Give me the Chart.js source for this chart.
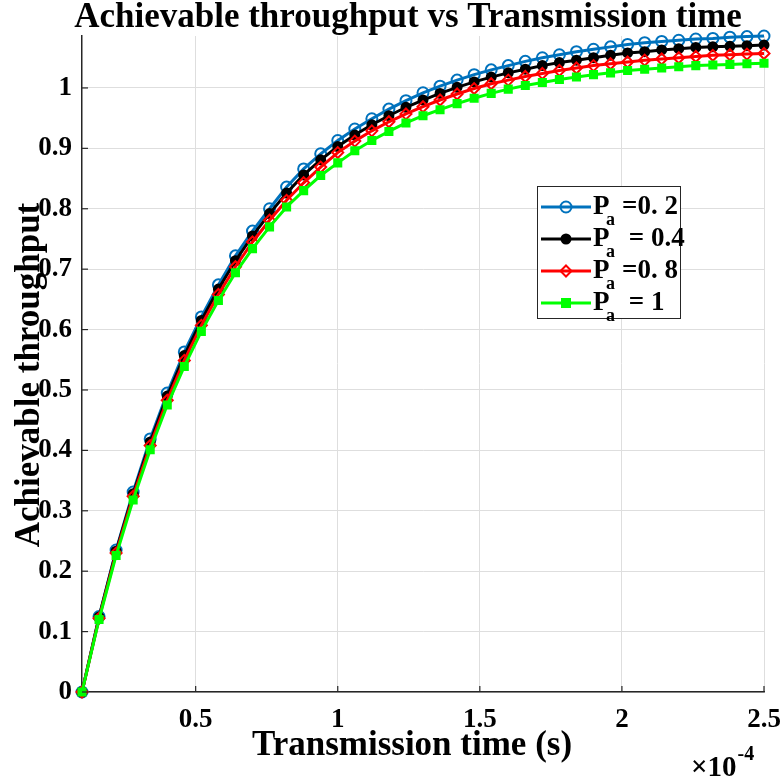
<!DOCTYPE html>
<html>
<head>
<meta charset="utf-8">
<title>Achievable throughput vs Transmission time</title>
<script src="https://cdn.jsdelivr.net/npm/chart.js"></script>
<style>
  html, body { margin: 0; padding: 0; background: #fff; }
  #wrap { width: 782px; height: 779px; }
</style>
</head>
<body>
<div id="wrap"><canvas id="throughputChart" width="782" height="779"></canvas></div>
<script>
'use strict';
// data (time in units of 1e-4 s)
var timeValues = [0.10, 0.16, 0.22, 0.28, 0.34, 0.40, 0.46, 0.52, 0.58, 0.64,
  0.70, 0.76, 0.82, 0.88, 0.94, 1.00, 1.06, 1.12, 1.18, 1.24,
  1.30, 1.36, 1.42, 1.48, 1.54, 1.60, 1.66, 1.72, 1.78, 1.84,
  1.90, 1.96, 2.02, 2.08, 2.14, 2.20, 2.26, 2.32, 2.38, 2.44, 2.50];
var throughputPa02 = [0, 0.125, 0.235, 0.331, 0.419, 0.495, 0.563, 0.621, 0.674, 0.722,
  0.763, 0.800, 0.836, 0.866, 0.891, 0.913, 0.932, 0.949, 0.965, 0.979,
  0.992, 1.003, 1.013, 1.022, 1.030, 1.037, 1.044, 1.050, 1.055, 1.060,
  1.064, 1.068, 1.072, 1.075, 1.077, 1.079, 1.081, 1.082, 1.084, 1.085, 1.086];
var throughputPa04 = [0, 0.124, 0.233, 0.328, 0.414, 0.490, 0.557, 0.615, 0.667, 0.714,
  0.755, 0.792, 0.826, 0.856, 0.881, 0.903, 0.922, 0.939, 0.954, 0.968,
  0.980, 0.991, 1.001, 1.010, 1.018, 1.025, 1.031, 1.037, 1.042, 1.046,
  1.050, 1.054, 1.058, 1.060, 1.063, 1.065, 1.067, 1.068, 1.069, 1.070, 1.071];
var throughputPa08 = [0, 0.122, 0.230, 0.324, 0.408, 0.483, 0.549, 0.607, 0.658, 0.704,
  0.745, 0.781, 0.814, 0.843, 0.869, 0.893, 0.912, 0.929, 0.944, 0.957,
  0.969, 0.980, 0.990, 0.999, 1.007, 1.013, 1.019, 1.024, 1.029, 1.033,
  1.037, 1.040, 1.043, 1.046, 1.048, 1.050, 1.052, 1.054, 1.055, 1.056, 1.057];
var throughputPa1 = [0, 0.120, 0.226, 0.318, 0.401, 0.475, 0.539, 0.597, 0.648, 0.694,
  0.734, 0.770, 0.803, 0.830, 0.855, 0.876, 0.896, 0.913, 0.928, 0.942,
  0.954, 0.964, 0.974, 0.983, 0.991, 0.998, 1.004, 1.009, 1.014, 1.018,
  1.022, 1.025, 1.029, 1.031, 1.033, 1.035, 1.037, 1.038, 1.039, 1.040, 1.041];
var xTickValues = [0.5, 1, 1.5, 2, 2.5];
var yTickValues = [0, 0.1, 0.2, 0.3, 0.4, 0.5, 0.6, 0.7, 0.8, 0.9, 1];
var legendNames = ['=0. 2', ' = 0.4', '=0. 8', ' = 1'];
var chartTitle = 'Achievable throughput vs Transmission time';
var xLabel = 'Transmission time (s)';
var yLabel = 'Achievable throughput';

var FONT = '"Liberation Serif", "Times New Roman", serif';
var seriesStyles = [
  { color: '#0072BD', point: 'circle', radius: 5.5, fill: 'rgba(0,0,0,0)' },
  { color: '#000000', point: 'circle', radius: 4.5, fill: '#000000' },
  { color: '#FF0000', point: 'rectRot', radius: 5.5, fill: 'rgba(0,0,0,0)' },
  { color: '#00FF00', point: 'rect', radius: 5, fill: '#00FF00' }
];
var seriesData = [throughputPa02, throughputPa04, throughputPa08, throughputPa1];

function makePoints(values) {
  var pts = [];
  for (var i = 0; i < timeValues.length; i++) {
    pts.push({ x: timeValues[i], y: values[i] });
  }
  return pts;
}

function makeDatasets() {
  var sets = [];
  for (var i = 0; i < seriesData.length; i++) {
    var st = seriesStyles[i];
    sets.push({
      label: 'Pa' + legendNames[i],
      data: makePoints(seriesData[i]),
      borderColor: st.color,
      backgroundColor: st.fill,
      borderWidth: 3,
      pointStyle: st.point,
      pointRadius: st.radius,
      pointBorderWidth: 2,
      pointBorderColor: st.color,
      pointBackgroundColor: st.fill,
      tension: 0,
      clip: false,
      order: seriesData.length - 1 - i // later series on top like matlab
    });
  }
  return sets;
}

// draws one legend marker by hand
function drawMarker(ctx, st, x, y) {
  var r = st.radius;
  ctx.save();
  ctx.lineWidth = 2;
  ctx.strokeStyle = st.color;
  ctx.fillStyle = st.fill;
  ctx.beginPath();
  if (st.point === 'circle') {
    ctx.arc(x, y, r, 0, Math.PI * 2);
  } else if (st.point === 'rectRot') {
    ctx.moveTo(x, y - r); ctx.lineTo(x + r, y); ctx.lineTo(x, y + r); ctx.lineTo(x - r, y);
    ctx.closePath();
  } else {
    var h = r * 0.8;
    ctx.rect(x - h, y - h, h * 2, h * 2);
  }
  ctx.fill();
  ctx.stroke();
  ctx.restore();
}

// title, axis labels, legend box, inward ticks and the x10^-4 multiplier
var extrasPlugin = {
  id: 'extras',
  afterDraw: function(chart) {
    var ctx = chart.ctx;
    var xs = chart.scales.x;
    var ys = chart.scales.y;
    var area = chart.chartArea;
    ctx.save();
    ctx.strokeStyle = '#262626';
    ctx.lineWidth = 1.2;
    xTickValues.forEach(function(v) {
      var px = xs.getPixelForValue(v);
      ctx.beginPath(); ctx.moveTo(px, area.bottom); ctx.lineTo(px, area.bottom - 6); ctx.stroke();
    });
    yTickValues.forEach(function(v) {
      var py = ys.getPixelForValue(v);
      ctx.beginPath(); ctx.moveTo(area.left, py); ctx.lineTo(area.left + 6, py); ctx.stroke();
    });

    // title and axis labels
    ctx.fillStyle = '#000';
    ctx.textAlign = 'center';
    ctx.textBaseline = 'alphabetic';
    ctx.font = 'bold 35px ' + FONT;
    ctx.fillText(chartTitle, 408, 27);
    ctx.fillText(xLabel, 412, 755);
    ctx.save();
    ctx.translate(39, 375);
    ctx.rotate(-Math.PI / 2);
    ctx.fillText(yLabel, 0, 0);
    ctx.restore();

    // multiplier
    ctx.textAlign = 'left';
    ctx.font = 'bold 29px ' + FONT;
    ctx.fillText('\u00d710', 691, 776);
    var w10 = ctx.measureText('\u00d710').width;
    ctx.font = 'bold 20px ' + FONT;
    ctx.fillText('-4', 691 + w10 + 1, 760);

    // legend
    var bx = 537, by = 186, bw = 143, bh = 132;
    ctx.fillStyle = '#fff';
    ctx.fillRect(bx, by, bw, bh);
    ctx.strokeStyle = '#262626';
    ctx.lineWidth = 1;
    ctx.strokeRect(bx + 0.5, by + 0.5, bw, bh);
    for (var i = 0; i < seriesStyles.length; i++) {
      var st = seriesStyles[i];
      var ly = by + 21 + i * 32;
      ctx.strokeStyle = st.color;
      ctx.lineWidth = 3;
      ctx.beginPath(); ctx.moveTo(bx + 4, ly); ctx.lineTo(bx + 54, ly); ctx.stroke();
      drawMarker(ctx, st, bx + 29, ly);
      ctx.fillStyle = '#000';
      ctx.textBaseline = 'middle';
      ctx.font = 'bold 27px ' + FONT;
      ctx.fillText('P', bx + 56, ly);
      ctx.font = 'bold 18px ' + FONT;
      ctx.fillText('a', bx + 69, ly + 13);
      ctx.font = 'bold 27px ' + FONT;
      ctx.fillText(legendNames[i], bx + 85, ly);
    }
    ctx.restore();
  }
};

var ctx = document.getElementById('throughputChart').getContext('2d');
var chart = new Chart(ctx, {
  type: 'line',
  data: { datasets: makeDatasets() },
  plugins: [extrasPlugin],
  options: {
    responsive: false,
    animation: false,
    layout: { padding: { left: 0, right: 18, top: 36, bottom: 0 } },
    plugins: {
      legend: { display: false },
      tooltip: { enabled: false },
      title: { display: false }
    },
    scales: {
      x: {
        type: 'linear',
        min: 0.1,
        max: 2.5,
        afterBuildTicks: function(s) { s.ticks = xTickValues.map(function(v) { return { value: v }; }); },
        afterFit: function(s) { s.height = 87; s.paddingLeft = 0; s.paddingRight = 0; },
        ticks: {
          color: '#000',
          padding: 12,
          maxRotation: 0,
          font: { family: FONT, size: 27, weight: 'bold' },
          callback: function(v) { return String(v); }
        },
        grid: { color: '#dedede', lineWidth: 1, drawTicks: false },
        border: { color: '#262626', width: 1.5 }
      },
      y: {
        min: 0,
        max: 1.086,
        afterBuildTicks: function(s) { s.ticks = yTickValues.map(function(v) { return { value: v }; }); },
        afterFit: function(s) { s.width = 82; s.paddingTop = 0; s.paddingBottom = 0; },
        ticks: {
          color: '#000',
          padding: 10,
          font: { family: FONT, size: 27, weight: 'bold' },
          callback: function(v) { return String(Math.round(v * 10) / 10); }
        },
        grid: { color: '#dedede', lineWidth: 1, drawTicks: false },
        border: { color: '#262626', width: 1.5 }
      }
    }
  }
});
</script>
</body>
</html>
